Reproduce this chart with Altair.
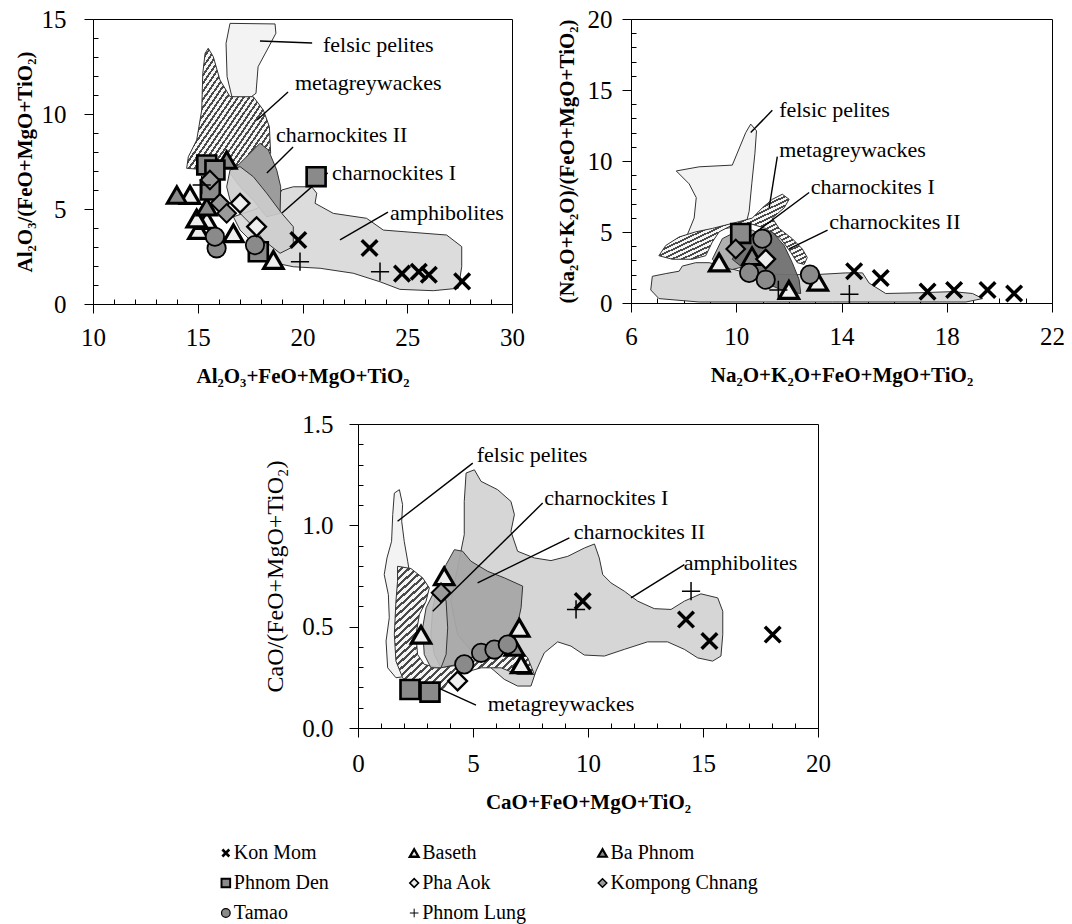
import altair as alt
import pandas as pd

FONT = "Times New Roman, Liberation Serif, Tinos, DejaVu Serif, serif"

# ---------------- series styling ----------------
SERIES = ["Kon Mom", "Baseth", "Ba Phnom", "Phnom Den", "Pha Aok",
          "Kompong Chnang", "Tamao", "Phnom Lung"]
SHAPES = ["M-0.8,-0.8L0.8,0.8M-0.8,0.8L0.8,-0.8", "triangle-up", "triangle-up",
          "square", "diamond", "diamond", "circle", "M-1,0L1,0M0,-1L0,1"]
FILLS = ["transparent", "#eeeeee", "#8a8a8a", "#8a8a8a", "#eeeeee",
         "#9a9a9a", "#8a8a8a", "transparent"]
SIZES = [380, 330, 330, 290, 290, 290, 270, 380]
WIDTHS = [3.5, 1.5, 1.5, 1.5, 1.5, 1.5, 1.5, 2.5]
LEG_WIDTHS = [2.6, 1, 1, 1, 1, 1, 1, 1.3]

# ---------------- panel 1 samples ----------------
P1_NAME = (["Baseth"] * 6 + ["Ba Phnom"] * 3 + ["Phnom Den"] * 5 + ["Kompong Chnang"] * 3
           + ["Tamao"] * 3 + ["Pha Aok"] * 2 + ["Phnom Lung"] * 3 + ["Kon Mom"] * 6)
P1_X = [14.63, 15.03, 15.43, 16.70, 18.61, 14.95,
        14.00, 15.43, 16.38,
        15.43, 15.82, 20.65, 17.89, 15.60,
        16.06, 15.58, 16.38,
        15.90, 15.82, 17.73,
        17.81, 17.02,
        19.88, 23.70, 15.19,
        19.80, 23.20, 24.75, 25.55, 26.03, 27.62]
P1_Y = [5.74, 3.89, 4.42, 3.72, 2.32, 4.50,
        5.74, 5.12, 7.58,
        7.32, 7.05, 6.70, 2.75, 6.00,
        5.30, 6.53, 4.77,
        2.93, 3.54, 3.10,
        4.07, 5.30,
        2.23, 1.70, 6.26,
        3.37, 2.95, 1.60, 1.70, 1.54, 1.19]

# ---------------- panel 2 samples ----------------
P2_NAME = (["Baseth"] * 3 + ["Ba Phnom"] + ["Phnom Den"] + ["Kompong Chnang"]
           + ["Tamao"] * 4 + ["Pha Aok"] + ["Phnom Lung"] * 2 + ["Kon Mom"] * 6)
P2_X = [9.35, 12.00, 13.10,
        10.60,
        10.17,
        9.98,
        12.80, 10.99, 10.49, 11.12,
        11.12,
        14.30, 11.60,
        14.48, 15.49, 17.27, 18.28, 19.55, 20.56]
P2_Y = [2.85, 0.92, 1.50,
        3.30,
        4.90,
        3.81,
        2.00, 4.53, 2.12, 1.64,
        3.09,
        0.62, 0.92,
        2.24, 1.76, 0.80, 0.92, 0.92, 0.67]

# ---------------- panel 3 samples ----------------
P3_NAME = (["Baseth"] * 4 + ["Ba Phnom"] + ["Phnom Den"] * 2 + ["Kompong Chnang"]
           + ["Tamao"] * 4 + ["Pha Aok"] + ["Phnom Lung"] * 2 + ["Kon Mom"] * 4)
P3_X = [7.01, 7.09, 3.75, 2.74,
        6.80,
        2.26, 3.13,
        3.61,
        4.62, 5.35, 5.93, 6.51,
        4.33,
        9.48, 14.48,
        9.77, 14.26, 15.28, 18.03]
P3_Y = [0.494, 0.314, 0.749, 0.460,
        0.400,
        0.190, 0.177,
        0.667,
        0.314, 0.371, 0.387, 0.412,
        0.232,
        0.585, 0.675,
        0.626, 0.535, 0.429, 0.461]

# ---------------- field outlines ----------------
P1_FELSIC_X = [16.54, 18.69, 18.73, 18.31, 17.88, 17.78, 17.35, 16.63, 16.40, 16.35]
P1_FELSIC_Y = [14.77, 14.74, 14.25, 13.37, 12.49, 11.09, 10.74, 10.91, 11.96, 13.72]
P1_MGW_X = [15.50, 15.74, 16.06, 16.54, 17.65, 18.13, 18.42, 18.48, 17.81, 16.70, 15.58,
            14.47, 14.55, 14.95, 15.19, 15.24, 15.35]
P1_MGW_Y = [13.46, 13.02, 11.79, 10.91, 10.91, 10.21, 9.33, 7.93, 7.58, 7.23, 7.05,
            7.14, 7.75, 8.63, 10.21, 12.14, 13.19]
P1_AMPH_X = [19.01, 19.56, 20.44, 20.68, 20.60, 21.47, 23.06, 23.86, 26.88, 27.60, 27.60,
             27.44, 26.24, 24.65, 23.70, 22.42, 20.84, 19.56, 18.77, 17.97, 17.02, 16.70,
             17.65, 18.77]
P1_AMPH_Y = [6.00, 6.17, 6.17, 5.83, 5.30, 4.77, 4.51, 3.89, 3.63, 3.02, 1.96,
             0.83, 0.70, 0.77, 1.17, 1.62, 1.88, 1.96, 2.14, 2.84, 3.89, 4.59,
             4.95, 5.47]
P1_CH2_X = [17.97, 18.37, 18.77, 18.96, 18.93, 18.29, 17.65, 17.02, 16.54, 17.02]
P1_CH2_Y = [8.46, 8.11, 7.05, 6.17, 4.77, 4.59, 5.47, 6.17, 6.88, 7.41]
P1_CH1_X = [16.54, 17.02, 17.65, 18.29, 19.01, 19.56, 19.56, 18.93, 18.13, 17.65, 17.02,
            16.54, 16.38]
P1_CH1_Y = [7.05, 7.23, 6.70, 5.83, 4.77, 4.07, 3.02, 2.67, 3.37, 4.07, 4.77,
            5.47, 6.17]

P2_AMPH_X = [6.81, 7.32, 7.83, 7.95, 8.46, 8.97, 9.47, 10.36, 11.88, 13.02, 14.16, 14.80,
             15.05, 15.68, 16.95, 18.22, 18.98, 19.36, 18.73, 16.19, 13.66, 11.12, 8.59,
             7.06, 6.75]
P2_AMPH_Y = [1.88, 2.07, 2.24, 2.60, 2.84, 2.84, 2.60, 2.12, 2.00, 2.00, 2.12, 2.12,
             1.40, 0.67, 0.72, 0.80, 0.67, 0.31, 0.07, 0.07, 0.07, 0.07, 0.07,
             0.31, 0.92]
P2_FELSIC_X = [7.72, 8.59, 9.85, 10.36, 10.55, 10.77, 10.71, 10.59, 10.49, 10.36, 9.60,
               8.59, 8.08, 8.40, 8.48, 8.21]
P2_FELSIC_Y = [9.30, 9.59, 9.71, 12.00, 12.60, 12.12, 10.55, 8.39, 6.46, 5.49, 5.25,
               5.01, 4.53, 5.98, 7.42, 8.39]
P2_MGW_X = [7.06, 7.32, 7.83, 8.46, 9.09, 9.60, 10.11, 10.61, 10.99, 11.37, 11.75, 12.01,
            11.82, 11.37, 11.63, 12.13, 12.51, 12.70, 12.58, 12.32, 12.07, 11.69, 11.12,
            10.49, 9.85, 9.35, 9.09, 8.84, 8.33, 7.57]
P2_MGW_Y = [3.33, 4.05, 4.65, 5.01, 5.25, 5.49, 5.73, 5.98, 6.70, 7.30, 7.66, 7.30,
            6.70, 5.98, 5.25, 4.53, 3.81, 3.20, 2.72, 2.84, 3.57, 4.53, 5.25,
            5.61, 5.49, 5.01, 4.29, 3.33, 3.08, 3.08]
P2_CH1_X = [9.09, 9.47, 9.98, 10.61, 10.99, 10.87, 10.36, 9.85, 9.35]
P2_CH1_Y = [3.08, 4.53, 5.01, 5.13, 4.77, 3.57, 2.60, 2.36, 2.60]
P2_CH2_X = [9.85, 10.23, 10.87, 11.37, 11.82, 12.13, 12.39, 12.45, 11.88, 11.12, 10.49]
P2_CH2_Y = [3.08, 4.29, 5.01, 5.01, 4.05, 2.84, 1.64, 0.67, 0.80, 1.40, 2.12]

P3_AMPH_X = [4.70, 5.06, 5.35, 6.07, 6.65, 6.80, 6.65, 6.94, 7.67, 8.39,
             9.12, 9.84, 10.28, 10.49, 10.64, 11.00, 11.58, 12.16, 12.88, 13.61,
             14.19, 14.91, 15.64, 15.86, 15.86, 15.78, 15.42, 14.77, 14.19, 13.46,
             12.59, 11.58, 10.71, 9.84, 9.26, 8.68, 8.10, 7.74, 7.52, 6.94,
             6.36, 5.78, 5.06, 4.33, 4.04, 4.33, 4.62, 4.62]
P3_AMPH_Y = [1.258, 1.274, 1.217, 1.176, 1.118, 1.053, 0.970, 0.872, 0.839, 0.826,
             0.847, 0.888, 0.908, 0.839, 0.757, 0.716, 0.675, 0.626, 0.589, 0.585,
             0.626, 0.662, 0.642, 0.576, 0.461, 0.355, 0.330, 0.346, 0.388, 0.425,
             0.425, 0.388, 0.355, 0.360, 0.404, 0.425, 0.371, 0.281, 0.207, 0.207,
             0.240, 0.297, 0.363, 0.461, 0.626, 0.790, 0.954, 1.118]
P3_FELSIC_X = [1.58, 1.80, 1.94, 1.90, 2.01, 2.16, 2.30, 2.38, 2.45, 2.38, 2.16, 1.65,
               1.29, 1.22, 1.36, 1.32, 1.14, 1.26, 1.46, 1.51]
P3_FELSIC_Y = [1.159, 1.176, 1.102, 1.020, 0.921, 0.823, 0.724, 0.593, 0.461, 0.330,
               0.256, 0.248, 0.297, 0.429, 0.544, 0.658, 0.757, 0.839, 0.921, 1.053]
P3_MGW_X = [1.72, 2.30, 2.81, 3.10, 2.96, 2.67, 2.52, 2.59, 2.88, 3.46, 4.04, 4.62, 5.49,
            6.36, 6.94, 7.38, 7.67, 6.94, 6.22, 5.35, 4.62, 4.04, 3.75, 3.17, 2.45, 1.94,
            1.65, 1.58, 1.65, 1.72]
P3_MGW_Y = [0.798, 0.787, 0.741, 0.691, 0.626, 0.560, 0.461, 0.363, 0.314, 0.297, 0.305,
            0.314, 0.346, 0.396, 0.404, 0.346, 0.264, 0.264, 0.297, 0.297, 0.273, 0.248,
            0.199, 0.166, 0.182, 0.248, 0.330, 0.461, 0.626, 0.724]
P3_CH2_X = [4.19, 4.55, 4.91, 5.64, 6.36, 7.16, 7.09, 6.87, 6.36, 5.64, 4.91, 4.33, 3.61,
            3.32, 3.17, 3.25, 3.46, 3.83]
P3_CH2_Y = [0.880, 0.872, 0.823, 0.773, 0.741, 0.700, 0.593, 0.478, 0.412, 0.388, 0.346,
            0.314, 0.297, 0.363, 0.461, 0.593, 0.691, 0.806]
P3_CH1_X = [3.32, 3.61, 3.83, 3.90, 3.83, 3.61, 3.17, 2.88, 2.81, 2.96]
P3_CH1_Y = [0.675, 0.691, 0.626, 0.494, 0.363, 0.297, 0.297, 0.363, 0.494, 0.593]

# ---------------- field labels: text, text x, text y, leader x1, y1, x2, y2 ----------------
P1_LABELS = [
    ("felsic pelites", 20.98, 13.63, 17.97, 13.84, 20.46, 13.74),
    ("metagreywackes", 19.64, 11.63, 17.83, 9.68, 19.31, 11.16),
    ("charnockites II", 18.74, 8.89, 18.30, 6.89, 19.55, 8.26),
    ("charnockites I", 21.41, 6.89, 19.02, 4.79, 21.20, 6.90),
    ("amphibolites", 24.18, 4.79, 21.79, 3.37, 24.08, 4.84),
]
P2_LABELS = [
    ("felsic pelites", 11.63, 13.61, 10.55, 12.00, 11.37, 13.57),
    ("metagreywackes", 11.63, 10.75, 11.25, 6.70, 11.56, 10.31),
    ("charnockites I", 12.83, 8.14, 9.98, 3.93, 12.77, 7.78),
    ("charnockites II", 13.53, 5.69, 12.01, 3.81, 13.47, 5.13),
]
P3_LABELS = [
    ("felsic pelites", 5.16, 1.348, 1.72, 1.02, 4.99, 1.307),
    ("charnockites I", 8.10, 1.135, 3.25, 0.576, 8.03, 1.11),
    ("charnockites II", 9.38, 0.966, 5.20, 0.716, 9.19, 0.938),
    ("amphibolites", 14.16, 0.814, 11.87, 0.642, 14.19, 0.806),
    ("metagreywackes", 5.64, 0.120, 3.46, 0.199, 5.13, 0.113),
]

# ---------------- legend layout ----------------
LEG_NAME = ["Kon Mom", "Baseth", "Ba Phnom", "Phnom Den", "Pha Aok", "Kompong Chnang",
            "Tamao", "Phnom Lung"]
LEG_COL = [0, 1, 2, 0, 1, 2, 0, 1]
LEG_ROW = [0, 0, 0, 1, 1, 1, 2, 2]


def hatch(n=30, dark="#4a4a4a", light="#f6f6f6", frac=0.42):
    stops = []
    for i in range(n):
        a = round(i / n, 5)
        b = round((i + frac) / n, 5)
        c = round((i + 1) / n, 5)
        stops += [{"offset": a, "color": dark}, {"offset": b, "color": dark},
                  {"offset": b, "color": light}, {"offset": c, "color": light}]
    return {"gradient": "linear", "x1": 0, "y1": 0, "x2": 1, "y2": 1, "stops": stops}


def sym_enc(widths):
    return dict(
        shape=alt.Shape("s:N", scale=alt.Scale(domain=SERIES, range=SHAPES), legend=None),
        fill=alt.Fill("s:N", scale=alt.Scale(domain=SERIES, range=FILLS), legend=None),
        strokeWidth=alt.StrokeWidth("s:N", scale=alt.Scale(domain=SERIES, range=widths), legend=None),
    )


def panel(fields, names, xs, ys, labels, xdom, ydom, xvals, yvals, xtest, ytest,
          xtitle, ytitle, w, h, minor, ylp, ytp, ytw, yts, xlp, xtp, yfmt=None):
    sx = alt.Scale(domain=xdom, nice=False, zero=False)
    sy = alt.Scale(domain=ydom, nice=False, zero=False)
    ax = alt.Axis(values=xvals, labelExpr=f"({xtest}) ? datum.label : ''",
                  tickSize={"condition": {"test": xtest, "value": 9}, "value": minor},
                  title=xtitle, titleFontWeight="bold", titleFontSize=21,
                  labelPadding=xlp, titlePadding=xtp)
    ykw = dict(values=yvals, labelExpr=f"({ytest}) ? datum.label : ''",
               tickSize={"condition": {"test": ytest, "value": 9}, "value": minor},
               title=ytitle, titleFontWeight=ytw, titleFontSize=yts,
               labelPadding=ylp, titlePadding=ytp)
    if yfmt:
        ykw["format"] = yfmt
    ay = alt.Axis(**ykw)
    X = alt.X("x:Q", scale=sx, axis=ax)
    Y = alt.Y("y:Q", scale=sy, axis=ay)
    layers = []
    for fx, fy, fill, op in fields:
        df = pd.DataFrame({"i": list(range(len(fx))), "x": fx, "y": fy})
        layers.append(alt.Chart(df).mark_line(interpolate="linear-closed", fill=fill,
                                              fillOpacity=op, stroke="#333333",
                                              strokeWidth=1).encode(x=X, y=Y, order="i:Q"))
    ldf = pd.DataFrame({"t": [l[0] for l in labels], "x": [l[1] for l in labels],
                        "y": [l[2] for l in labels],
                        "ax": [l[3] for l in labels], "ay": [l[4] for l in labels],
                        "bx": [l[5] for l in labels], "by": [l[6] for l in labels]})
    layers.append(alt.Chart(ldf).mark_rule(color="black", strokeWidth=1.4).encode(
        x=alt.X("ax:Q", scale=sx, axis=ax), y=alt.Y("ay:Q", scale=sy, axis=ay),
        x2="bx:Q", y2="by:Q"))
    layers.append(alt.Chart(ldf).mark_text(align="left", baseline="middle", font=FONT,
                                           fontSize=22, color="black").encode(x=X, y=Y, text="t:N"))
    pdf = pd.DataFrame({"s": names, "x": xs, "y": ys})
    layers.append(alt.Chart(pdf).mark_point(opacity=1, stroke="black").encode(
        x=X, y=Y,
        size=alt.Size("s:N", scale=alt.Scale(domain=SERIES, range=SIZES), legend=None),
        **sym_enc(WIDTHS)))
    return alt.layer(*layers).properties(width=w, height=h)


def spacer(w):
    return alt.Chart(pd.DataFrame({"v": [0.5]})).mark_point(opacity=0, size=1).encode(
        x=alt.X("v:Q", axis=None, scale=alt.Scale(domain=[0, 1])),
        y=alt.Y("v:Q", axis=None, scale=alt.Scale(domain=[0, 1]))
    ).properties(width=w, height=1, view=alt.ViewBackground(stroke="transparent"))


def build(minor):
    p1 = panel(
        [(P1_FELSIC_X, P1_FELSIC_Y, "#f3f3f3", 1),
         (P1_MGW_X, P1_MGW_Y, hatch(), 1),
         (P1_AMPH_X, P1_AMPH_Y, "#dcdcdc", 1),
         (P1_CH2_X, P1_CH2_Y, "#9c9c9c", 1),
         (P1_CH1_X, P1_CH1_Y, "#cdcdcd", 0.9)],
        P1_NAME, P1_X, P1_Y, P1_LABELS, [10, 30], [0, 15],
        list(range(10, 31)), list(range(0, 16)),
        "datum.value % 5 === 0", "datum.value % 5 === 0",
        "Al\u2082O\u2083+FeO+MgO+TiO\u2082", "Al\u2082O\u2083/(FeO+MgO+TiO\u2082)",
        419, 285, minor, 18, 6, "bold", 21, 12, 15)
    p2 = panel(
        [(P2_AMPH_X, P2_AMPH_Y, "#d9d9d9", 1),
         (P2_FELSIC_X, P2_FELSIC_Y, "#f3f3f3", 1),
         (P2_MGW_X, P2_MGW_Y, hatch(), 1),
         (P2_CH1_X, P2_CH1_Y, "#b0b0b0", 1),
         (P2_CH2_X, P2_CH2_Y, "#707070", 0.95)],
        P2_NAME, P2_X, P2_Y, P2_LABELS, [6, 22], [0, 20],
        list(range(6, 23)), list(range(0, 21)),
        "(datum.value - 6) % 4 === 0", "datum.value % 5 === 0",
        "Na\u2082O+K\u2082O+FeO+MgO+TiO\u2082", "(Na\u2082O+K\u2082O)/(FeO+MgO+TiO\u2082)",
        421, 284, minor, 10, 10, "bold", 21, 12, 15)
    p3 = panel(
        [(P3_AMPH_X, P3_AMPH_Y, "#d6d6d6", 1),
         (P3_FELSIC_X, P3_FELSIC_Y, "#f3f3f3", 1),
         (P3_MGW_X, P3_MGW_Y, hatch(n=36), 1),
         (P3_CH2_X, P3_CH2_Y, "#a6a6a6", 0.95),
         (P3_CH1_X, P3_CH1_Y, "#bebebe", 0.9)],
        P3_NAME, P3_X, P3_Y, P3_LABELS, [0, 20], [0, 1.5],
        list(range(0, 21)), [round(i / 10, 1) for i in range(16)],
        "datum.value % 5 === 0", "abs(round(datum.value * 10)) % 5 === 0",
        "CaO+FeO+MgO+TiO\u2082", "CaO/(FeO+MgO+TiO\u2082)",
        460, 304, minor, 16, 14, "normal", 24, 14, 15, yfmt=".1f")

    ldf = pd.DataFrame({"s": LEG_NAME, "c": LEG_COL, "r": LEG_ROW})
    lx = alt.X("c:Q", scale=alt.Scale(domain=[-0.1, 2.9], nice=False, zero=False), axis=None)
    ly = alt.Y("r:Q", scale=alt.Scale(domain=[-0.5, 2.6], reverse=True, nice=False, zero=False),
               axis=None)
    lsym = alt.Chart(ldf).mark_point(opacity=1, stroke="black", size=75).encode(
        x=lx, y=ly, **sym_enc(LEG_WIDTHS))
    ltxt = alt.Chart(ldf).mark_text(align="left", baseline="middle", dx=8, font=FONT,
                                    fontSize=20, color="black").encode(x=lx, y=ly, text="s:N")
    legend = alt.layer(lsym, ltxt).properties(width=565, height=93,
                                               view=alt.ViewBackground(stroke="transparent"))

    top = alt.hconcat(p1, p2, spacing=30)
    mid = alt.hconcat(spacer(169), p3, spacing=0)
    bot = alt.hconcat(spacer(112), legend, spacing=0)
    chart = alt.vconcat(top, mid, bot, spacing=24).properties(
        padding={"left": 13, "top": 6, "right": 0, "bottom": 0}
    ).resolve_scale(strokeWidth="independent").configure_view(
        stroke="black", strokeWidth=1).configure_axis(
        labelFont=FONT, labelFontSize=25, labelColor="black", titleFont=FONT,
        titleColor="black", domainColor="black", tickColor="black", grid=False,
        labelFlush=False, labelOverlap=False, tickWidth=1
    )
    return chart


try:
    chart = build(-5)
    chart.save("out.html", embed_options={"renderer": "svg", "actions": False})
except Exception:
    chart = build(5)
    chart.save("out.html", embed_options={"renderer": "svg", "actions": False})
